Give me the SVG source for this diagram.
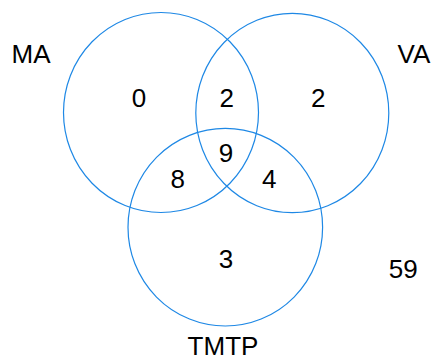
<svg xmlns="http://www.w3.org/2000/svg" width="433" height="356" viewBox="0 0 433 356">
<style>
.c{fill:none;stroke:#1e88e5;stroke-width:1.2}
text{font-family:"Liberation Sans",Arial,sans-serif;font-size:26px;fill:#000;text-anchor:middle}
</style>
<rect width="433" height="356" fill="#fff"/>
<g id="sets">
<g id="MA"><ellipse class="c" cx="161" cy="112.5" rx="97.5" ry="100"/><text x="31" y="63">MA</text></g>
<g id="VA"><ellipse class="c" cx="292.3" cy="113" rx="96.5" ry="99.7"/><text x="414" y="63">VA</text></g>
<g id="TMTP"><ellipse class="c" cx="225.3" cy="227.2" rx="97.3" ry="98.8"/><text x="223" y="355">TMTP</text></g>
</g>
<g id="counts">
<text x="139" y="107">0</text>
<text x="226.7" y="107">2</text>
<text x="318.3" y="107">2</text>
<text x="226" y="162">9</text>
<text x="177.7" y="188">8</text>
<text x="269.3" y="188">4</text>
<text x="226" y="268">3</text>
<text x="403.3" y="278">59</text>
</g>
</svg>
